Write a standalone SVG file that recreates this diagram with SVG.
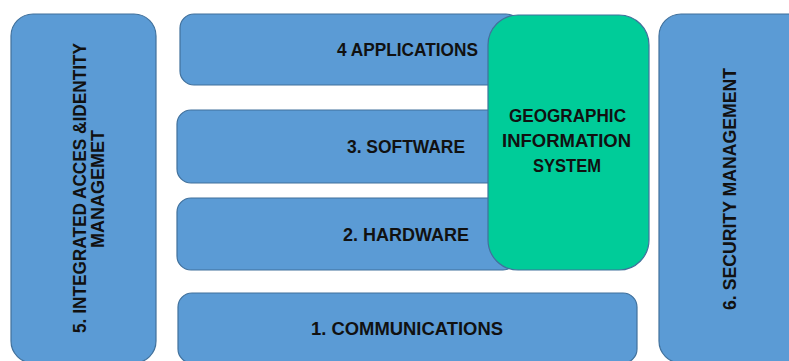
<svg xmlns="http://www.w3.org/2000/svg" width="789" height="361" viewBox="0 0 789 361">
<style>
.blk{fill:#5B9BD5;stroke:#41719C;stroke-width:1.2}
.gis{fill:#00CC99;stroke:#41719C;stroke-width:1.2}
.t{font-family:"Liberation Sans",Arial,sans-serif;font-weight:bold;font-size:18.5px;fill:#111;text-anchor:middle}
</style>
<rect width="789" height="361" fill="#fff"/>
<g id="n5">
<rect class="blk" x="11" y="14" width="145" height="349" rx="22"/>
<text class="t" transform="translate(85.5,188) rotate(-90)" textLength="290" lengthAdjust="spacingAndGlyphs">5. INTEGRATED ACCES &amp;IDENTITY</text>
<text class="t" transform="translate(103.5,189) rotate(-90)" textLength="118" lengthAdjust="spacingAndGlyphs">MANAGEMET</text>
</g>
<g id="n4">
<rect class="blk" x="180" y="14" width="340" height="71" rx="14"/>
<text class="t" x="407.5" y="55.5" textLength="141" lengthAdjust="spacingAndGlyphs">4 APPLICATIONS</text>
</g>
<g id="n3">
<rect class="blk" x="177" y="110" width="340" height="73" rx="14"/>
<text class="t" x="406" y="152.5" textLength="118" lengthAdjust="spacingAndGlyphs">3. SOFTWARE</text>
</g>
<g id="n2">
<rect class="blk" x="177" y="198" width="340" height="72" rx="14"/>
<text class="t" x="406" y="240.5" textLength="126" lengthAdjust="spacingAndGlyphs">2. HARDWARE</text>
</g>
<g id="n1">
<rect class="blk" x="178" y="293" width="459" height="70" rx="14"/>
<text class="t" x="407" y="334.5" textLength="192" lengthAdjust="spacingAndGlyphs">1. COMMUNICATIONS</text>
</g>
<g id="gis">
<rect class="gis" x="488" y="15" width="161" height="255" rx="30"/>
<text class="t" x="567.5" y="121.5" textLength="117" lengthAdjust="spacingAndGlyphs">GEOGRAPHIC</text>
<text class="t" x="566.5" y="146.5" textLength="129" lengthAdjust="spacingAndGlyphs">INFORMATION</text>
<text class="t" x="567" y="171.5" textLength="68" lengthAdjust="spacingAndGlyphs">SYSTEM</text>
</g>
<g id="n6">
<rect class="blk" x="659" y="14" width="160" height="349" rx="22"/>
<text class="t" transform="translate(735.5,189) rotate(-90)" textLength="242" lengthAdjust="spacingAndGlyphs">6. SECURITY MANAGEMENT</text>
</g>
<g id="connectors"></g>
</svg>
